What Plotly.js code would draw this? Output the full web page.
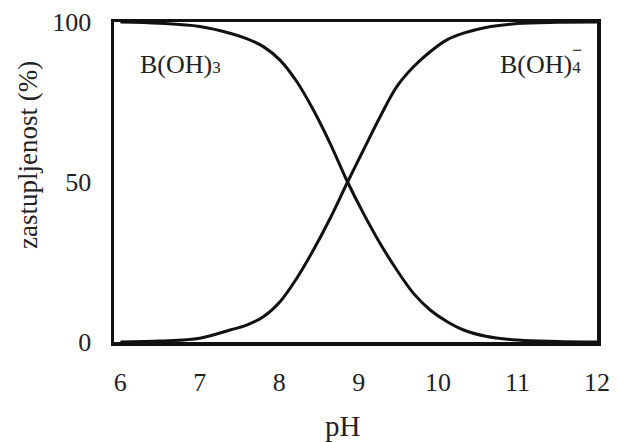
<!DOCTYPE html>
<html>
<head>
<meta charset="utf-8">
<script src="https://cdn.plot.ly/plotly-3.0.1.min.js"></script>
<style>html,body{margin:0;padding:0;background:#fff;}#chart{width:618px;height:442px;}</style>
</head>
<body>
<div id="chart"></div>
<script>
// pH values and read-off species fractions (%)
const pH        = [6, 6.5, 7, 7.38, 7.59, 7.8, 8.01, 8.22, 8.43, 8.64, 8.86, 9.06, 9.27, 9.48, 9.69, 9.9, 10.11, 10.32, 10.6, 11, 11.5, 12];
const boricAcid = [100, 99.6, 98.6, 96.5, 94.8, 92.3, 88.1, 81.4, 72.5, 62.1, 50, 40.2, 30.8, 22.5, 15.2, 10, 6.4, 3.75, 1.8, 0.6, 0.15, 0];
const borate    = [0, 0.3, 1.2, 3.75, 5.3, 7.9, 12.6, 19.9, 28.75, 38.6, 50, 60, 70.4, 79.8, 86, 90.7, 94.4, 96.5, 98.3, 99.5, 99.9, 100];
const xTicks = [6, 7, 8, 9, 10, 11, 12];
const yTicks = [0, 50, 100];
const labelAcid = 'B(OH)<span style="font-size:17px">3</span>';
const labelBorate = 'B(OH)<span style="font-size:17px">4</span>';
const chargeMark = '−';
const xTitle = 'pH';
const yTitle = 'zastupljenost (%)';

const serif = 'Liberation Serif';
const lineStyle = {color: '#111', width: 3, shape: 'spline', smoothing: 1};

const traces = [
  {x: pH, y: boricAcid, mode: 'lines', line: lineStyle, hoverinfo: 'skip'},
  {x: pH, y: borate, mode: 'lines', line: lineStyle, hoverinfo: 'skip'}
];

const layout = {
  width: 618, height: 442,
  margin: {l: 114, r: 21, t: 22, b: 100},
  paper_bgcolor: '#fff', plot_bgcolor: '#fff',
  showlegend: false,
  font: {family: serif, color: '#222', size: 26},
  xaxis: {
    range: [5.92, 12], tickvals: xTicks, ticktext: xTicks.map(String),
    showgrid: false, zeroline: false, ticks: '',
    showline: true, mirror: true, linewidth: 3.5, linecolor: '#111',
    ticklabelstandoff: 14, tickfont: {family: serif, size: 26, color: '#222'}
  },
  yaxis: {
    range: [0, 100], tickvals: yTicks, ticktext: yTicks.map(String),
    showgrid: false, zeroline: false, ticks: '',
    showline: true, mirror: true, linewidth: 3.5, linecolor: '#111',
    ticklabelstandoff: 14, tickfont: {family: serif, size: 26, color: '#222'}
  },
  annotations: [
    {text: labelAcid, xref: 'paper', yref: 'paper', x: 0.049, y: 0.866, xanchor: 'left', yanchor: 'middle',
     showarrow: false, font: {family: serif, size: 26, color: '#222'}},
    {text: labelBorate, xref: 'paper', yref: 'paper', x: 0.972, y: 0.866, xanchor: 'right', yanchor: 'middle',
     showarrow: false, font: {family: serif, size: 26, color: '#222'}},
    {text: chargeMark, xref: 'paper', yref: 'paper', x: 0.974, y: 0.912, xanchor: 'right', yanchor: 'middle',
     showarrow: false, font: {family: serif, size: 18, color: '#111'}},
    {text: xTitle, xref: 'paper', yref: 'paper', x: (343 - 114) / 483, y: -0.262, xanchor: 'center', yanchor: 'middle',
     showarrow: false, font: {family: serif, size: 29, color: '#222'}},
    {text: yTitle, xref: 'paper', yref: 'paper', x: (28 - 114) / 483, y: (342 - 155) / 320, xanchor: 'center', yanchor: 'middle',
     textangle: -90, showarrow: false, font: {family: serif, size: 27, color: '#222'}}
  ]
};

Plotly.newPlot('chart', traces, layout, {staticPlot: true, displayModeBar: false});
</script>
</body>
</html>
